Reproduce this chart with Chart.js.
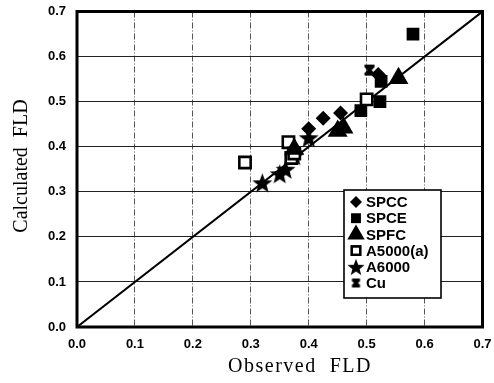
<!DOCTYPE html>
<html>
<head>
<meta charset="utf-8">
<script src="https://cdn.jsdelivr.net/npm/chart.js@4/dist/chart.umd.min.js"></script>
<style>
  html, body { margin: 0; padding: 0; background: #fff; }
  #wrap { position: relative; width: 494px; height: 383px; }
</style>
</head>
<body>
<div id="wrap"><canvas id="fld" width="494" height="383"></canvas></div>
<script>
// Observed vs calculated FLD for each material
const spccX = [0.40, 0.425, 0.455, 0.52];
const spccY = [0.44, 0.463, 0.475, 0.56];
const spceX = [0.49, 0.523, 0.525, 0.58];
const spceY = [0.48, 0.50, 0.545, 0.65];
const spfcX = [0.375, 0.45, 0.46, 0.555];
const spfcY = [0.395, 0.435, 0.442, 0.552];
const a5000X = [0.29, 0.365, 0.37, 0.375, 0.50];
const a5000Y = [0.365, 0.41, 0.375, 0.385, 0.505];
const a6000X = [0.32, 0.35, 0.36, 0.375, 0.40];
const a6000Y = [0.32, 0.34, 0.35, 0.38, 0.42];
const cuX = [0.505];
const cuY = [0.57];
const axisTicks = [0, 0.1, 0.2, 0.3, 0.4, 0.5, 0.6, 0.7];
const xTitle = 'Observed  FLD';
const yTitle = 'Calculated  FLD';

const toPts = (xs, ys) => xs.map((x, i) => ({ x, y: ys[i] }));

// filled five-point star used as a point style
function starCanvas(size) {
  const c = document.createElement('canvas');
  c.width = c.height = size;
  const g = c.getContext('2d');
  const cx = size / 2, cy = size / 2 + 1, R = size / 2, r = R * 0.42;
  g.beginPath();
  for (let i = 0; i < 10; i++) {
    const a = -Math.PI / 2 + i * Math.PI / 5;
    const rr = i % 2 ? r : R;
    g.lineTo(cx + rr * Math.cos(a), cy + rr * Math.sin(a));
  }
  g.closePath();
  g.fillStyle = '#000';
  g.fill();
  return c;
}

// bold cross for Cu
function crossCanvas(size) {
  const c = document.createElement('canvas');
  c.width = c.height = size;
  const g = c.getContext('2d');
  g.fillStyle = '#000';
  g.beginPath();
  g.moveTo(1, 1); g.lineTo(size - 1, 1); g.lineTo(size / 2, size / 2);
  g.lineTo(size - 1, size - 1); g.lineTo(1, size - 1); g.lineTo(size / 2, size / 2);
  g.closePath();
  g.fill();
  g.strokeStyle = '#000';
  g.lineWidth = 3;
  g.beginPath();
  g.moveTo(2, 2); g.lineTo(size - 2, size - 2);
  g.moveTo(size - 2, 2); g.lineTo(2, size - 2);
  g.stroke();
  return c;
}

const star = starCanvas(21);
const starSmall = starCanvas(18);
const cross = crossCanvas(13);
const crossSmall = crossCanvas(11);

const series = [
  { label: 'SPCC', data: toPts(spccX, spccY), pointStyle: 'rectRot', radius: 7.5, fill: '#000', border: 0, legend: { style: 'rectRot', r: 6 } },
  { label: 'SPCE', data: toPts(spceX, spceY), pointStyle: 'rect', radius: 9, fill: '#000', border: 0, legend: { style: 'rect', r: 7 } },
  { label: 'SPFC', data: toPts(spfcX, spfcY), pointStyle: 'triangle', radius: 11.5, fill: '#000', border: 0, legend: { style: 'triangle', r: 10 } },
  { label: 'A5000(a)', data: toPts(a5000X, a5000Y), pointStyle: 'rect', radius: 8, fill: '#fff', border: 2.6, legend: { style: 'rect', r: 6 } },
  { label: 'A6000', data: toPts(a6000X, a6000Y), pointStyle: star, radius: 10, fill: '#000', border: 0, legend: { style: starSmall, r: 9 } },
  { label: 'Cu', data: toPts(cuX, cuY), pointStyle: cross, radius: 6.5, fill: '#000', border: 0, legend: { style: crossSmall, r: 5.5 } },
];

const datasets = series.map(s => ({
  label: s.label,
  data: s.data,
  pointStyle: s.pointStyle,
  pointRadius: s.radius,
  pointHoverRadius: s.radius,
  backgroundColor: s.fill,
  borderColor: '#000',
  pointBorderWidth: s.border,
  borderWidth: s.border,
  showLine: false,
  order: 1,
}));

// y = x reference line
datasets.push({
  type: 'line',
  label: 'y=x',
  data: [{ x: 0, y: 0 }, { x: 0.7, y: 0.7 }],
  borderColor: '#000',
  borderWidth: 2,
  pointRadius: 0,
  fill: false,
  order: 2,
});

// frame, axis titles and the boxed legend
const framePlugin = {
  id: 'frameLegend',
  afterDraw(chart) {
    const { ctx, chartArea: a } = chart;
    ctx.save();
    ctx.strokeStyle = '#000';
    ctx.lineWidth = 3;
    ctx.strokeRect(a.left, a.top, a.right - a.left, a.bottom - a.top);

    // axis titles
    ctx.fillStyle = '#000';
    ctx.font = '20px "Liberation Serif", "Times New Roman", serif';
    ctx.textAlign = 'center';
    ctx.textBaseline = 'middle';
    ctx.letterSpacing = '1.5px';
    ctx.fillText(xTitle, 300, 367);
    ctx.letterSpacing = '0px';
    ctx.save();
    ctx.translate(22, 166);
    ctx.rotate(-Math.PI / 2);
    ctx.fillText(yTitle, 0, 0);
    ctx.restore();

    const bx = 344, by = 190, bw = 97, bh = 108;
    ctx.fillStyle = '#fff';
    ctx.fillRect(bx, by, bw, bh);
    ctx.strokeStyle = '#000';
    ctx.lineWidth = 1.6;
    ctx.strokeRect(bx, by, bw, bh);

    ctx.font = 'bold 15px "Liberation Sans", Arial, sans-serif';
    ctx.textBaseline = 'middle';
    ctx.textAlign = 'left';
    series.forEach((s, i) => {
      const y = by + 12 + i * 16.2;
      ctx.fillStyle = s.fill;
      ctx.strokeStyle = '#000';
      ctx.lineWidth = s.border ? 2.2 : 0;
      Chart.helpers.drawPoint(ctx, { pointStyle: s.legend.style, radius: s.legend.r, rotation: 0, borderWidth: s.border ? 2.2 : 0 }, 356, y);
      if (s.border) ctx.stroke();
      ctx.fillStyle = '#000';
      ctx.fillText(s.label, 366, y + 1);
    });
    ctx.restore();
  }
};

const tickFont = { family: '"Liberation Sans", Arial, sans-serif', size: 13, weight: 'bold' };

new Chart(document.getElementById('fld'), {
  type: 'scatter',
  data: { datasets },
  options: {
    responsive: false,
    animation: false,
    events: [],
    layout: { padding: { top: 11, right: 9, left: 0, bottom: 0 } },
    plugins: { legend: { display: false }, tooltip: { enabled: false } },
    scales: {
      x: {
        type: 'linear',
        min: 0, max: 0.7,
        afterBuildTicks: (s) => { s.ticks = axisTicks.map(v => ({ value: v })); },
        afterFit: (s) => { s.height = 56; s.paddingLeft = 0; s.paddingRight = 0; },
        grid: { color: '#555', lineWidth: 1, drawTicks: false },
        border: { display: false, dash: [6, 2, 1, 2] },
        ticks: { color: '#000', font: tickFont, padding: 10, callback: v => v.toFixed(1) },
      },
      y: {
        type: 'linear',
        min: 0, max: 0.7,
        afterBuildTicks: (s) => { s.ticks = axisTicks.map(v => ({ value: v })); },
        afterFit: (s) => { s.width = 77; s.paddingTop = 0; s.paddingBottom = 0; },
        grid: { color: '#222', lineWidth: 1, drawTicks: false },
        border: { display: false },
        ticks: { color: '#000', font: tickFont, padding: 11, callback: v => v.toFixed(1) },
      },
    },
  },
  plugins: [framePlugin],
});
</script>
</body>
</html>
